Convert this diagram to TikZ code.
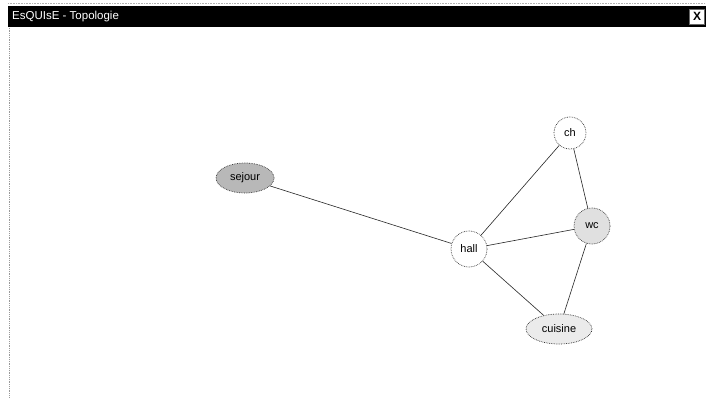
\documentclass[tikz,border=0pt]{standalone}
\usepackage{fontspec}
\setmainfont{Liberation Sans}
\usetikzlibrary{shapes.geometric}
\begin{document}
\begin{tikzpicture}[x=1pt,y=-1pt,
  room/.style={draw=black!80, line width=0.7pt, densely dotted, inner sep=0pt, font=\fontsize{11}{13}\selectfont},
  roundroom/.style={room, circle, minimum size=34pt},
  ovalroom/.style={room, ellipse, minimum width=60pt, minimum height=30pt},
  link/.style={draw=black!85, line width=0.6pt}]
\useasboundingbox (0,0) rectangle (706,398);
\fill[white] (0,0) rectangle (706,398);
% window frame
\draw[black!40, densely dotted, line width=0.8pt] (9,26) -- (9,398);
\draw[black!30, densely dotted, line width=0.6pt] (8,3) -- (706,3);
\fill[black] (8,6) rectangle (706,27);
\node[anchor=west, text=white, font=\fontsize{11.5}{13}\selectfont, inner sep=0pt] (title) at (12,16.5) {EsQUIsE - Topologie};
\node[fill=white, draw=black!60, minimum size=15pt, inner sep=0pt, font=\bfseries\fontsize{12}{12}\selectfont] (close) at (697,16.5) {X};
% rooms
\node[ovalroom, fill=black!28, minimum width=58pt] (sejour) at (245,178) {sejour};
\node[roundroom, fill=white, minimum size=32pt] (ch) at (570,133) {ch};
\node[roundroom, fill=black!12, minimum size=36pt] (wc) at (592,226) {wc};
\node[roundroom, fill=white, minimum size=36pt] (hall) at (469,249) {hall};
\node[ovalroom, fill=black!8, minimum width=66pt] (cuisine) at (559,329) {cuisine};
% links
\draw[link] (sejour) -- (hall);
\draw[link] (hall) -- (ch);
\draw[link] (hall) -- (wc);
\draw[link] (hall) -- (cuisine);
\draw[link] (ch) -- (wc);
\draw[link] (wc) -- (cuisine);
\end{tikzpicture}
\end{document}
